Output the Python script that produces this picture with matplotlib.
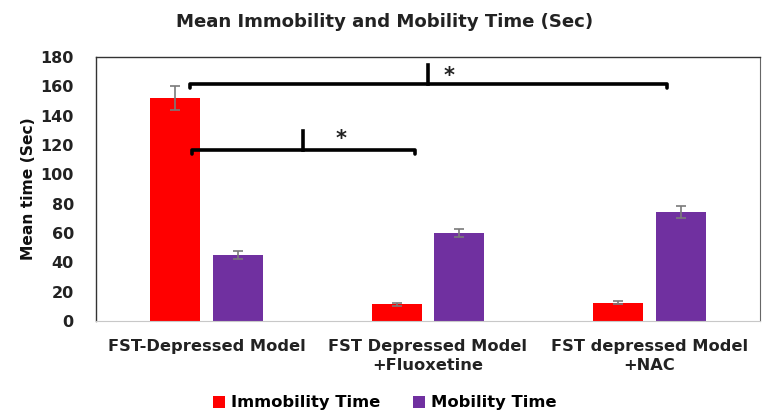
import matplotlib
matplotlib.use("Agg")
import matplotlib.pyplot as plt
import numpy as np

categories = ["FST-Depressed Model", "FST Depressed Model\n+Fluoxetine", "FST depressed Model\n+NAC"]
immobility = [152, 11.5, 12.5]
immobility_err = [8, 1, 1]
mobility = [45, 60, 74.5]
mobility_err = [3, 3, 4]
series_names = ["Immobility Time", "Mobility Time"]
yticks = [0, 20, 40, 60, 80, 100, 120, 140, 160, 180]

plt.rcParams['font.family'] = ['DejaVu Sans']
plt.rcParams['font.weight'] = 'bold'

fig = plt.figure(figsize=(7.7, 4.2), dpi=100)
ax = fig.add_axes([96/770, 1-321/420, (760-96)/770, (321-57)/420])

x = np.arange(len(categories))
w = 0.226
off = 0.142
ekw = dict(ecolor='#7a7a7a', elinewidth=1.2, capsize=3.5, capthick=1.2)
ax.bar(x - off, immobility, w, color='#ff0000', yerr=immobility_err, error_kw=ekw, label=series_names[0])
ax.bar(x + off, mobility, w, color='#7030a0', yerr=mobility_err, error_kw=ekw, label=series_names[1])

ax.set_xlim(-0.5, 2.5)
ax.set_ylim(0, 180)
ax.set_yticks(yticks)
ax.set_xticks(x)
ax.set_xticklabels(categories, fontsize=11.7, fontweight='bold', color='#222222', linespacing=1.35)
ax.tick_params(axis='both', length=0)
ax.tick_params(axis='x', pad=13)
ax.tick_params(axis='y', labelsize=11.5, pad=16)
for lab in ax.get_yticklabels():
    lab.set_fontweight('bold')
    lab.set_color('#222222')
ax.set_ylabel("Mean time (Sec)", fontsize=11.2, fontweight='bold', labelpad=3, color='#111111')

for side in ['left', 'top']:
    ax.spines[side].set_color('#333333')
    ax.spines[side].set_linewidth(1.0)
ax.spines['right'].set_color('#666666')
ax.spines['bottom'].set_color('#c8c8c8')

# significance brackets
def bracket(x0, x1, y, xm, ytop, xs, ys):
    ax.plot([x0, x0, x1, x1], [y - 2.5, y, y, y - 2.5], color='black', lw=2.6,
            solid_capstyle='round', solid_joinstyle='round')
    ax.plot([xm, xm], [y, ytop], color='black', lw=2.6)
    ax.text(xs, ys, "*", fontsize=15, fontweight='bold', ha='center', va='center', color='#222222')

bracket(-0.075, 2.08, 161.3, 1.0, 174.5, 1.095, 167)
bracket(-0.068, 0.941, 116.5, 0.434, 129.7, 0.607, 124)

fig.text(0.5, 1-22/420, "Mean Immobility and Mobility Time (Sec)", ha='center', va='center',
         fontsize=13.1, fontweight='bold', color='#222222')

fig.legend(loc='center', bbox_to_anchor=(0.5, 1-403/420), ncol=2, frameon=False,
           prop={'size': 11.8, 'weight': 'bold'}, handlelength=0.7, handleheight=0.7,
           handletextpad=0.4, columnspacing=2.0)

fig.savefig("out.png", dpi=100)
